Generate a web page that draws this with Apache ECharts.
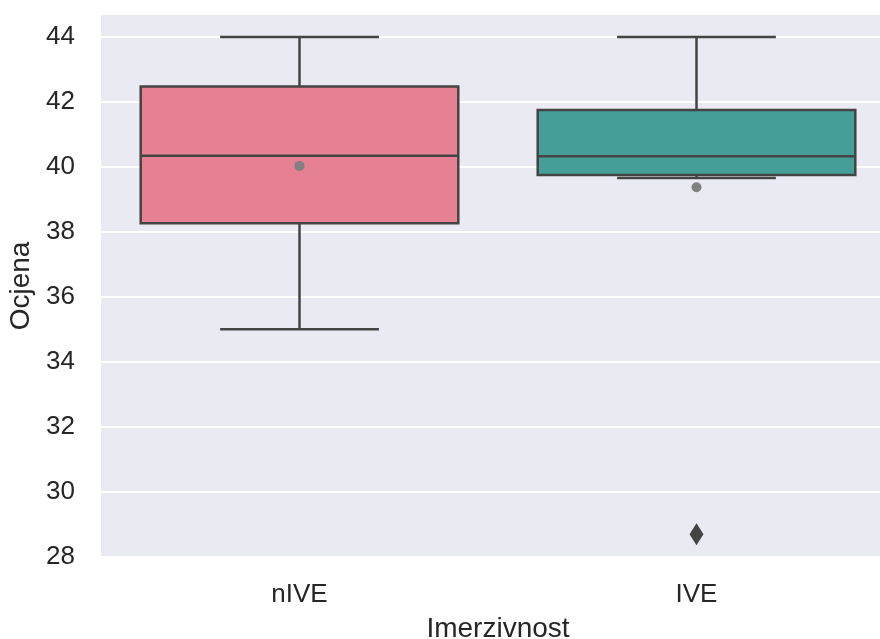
<!DOCTYPE html>
<html>
<head>
<meta charset="utf-8">
<script src="https://cdn.jsdelivr.net/npm/echarts@6/dist/echarts.min.js"></script>
<style>
html,body{margin:0;padding:0;background:#fff;}
#chart{width:880px;height:639px;}
</style>
</head>
<body>
<div id="chart"></div>
<script>
// ---- data ----
const categories = ['nIVE', 'IVE'];
const boxColors = ['#E68193', '#459E97'];
// [lower whisker, Q1, median, Q3, upper whisker]
const whiskerLow = [35.0, 39.66];
const q1 = [38.26, 39.75];
const medians = [40.34, 40.33];
const q3 = [42.48, 41.75];
const whiskerHigh = [44.0, 44.0];
const means = [40.03, 39.37];
const outliers = [[1, 28.68]];
const yTicks = [28, 30, 32, 34, 36, 38, 40, 42, 44];

const FONT = '"Liberation Sans", Arial, sans-serif';
const TEXT = '#262626';
const EDGE = '#444444';

const boxData = categories.map((c, i) => [i, whiskerLow[i], q1[i], medians[i], q3[i], whiskerHigh[i]]);

function renderBox(params, api) {
  const idx = api.value(0);
  const band = api.size([1, 0])[0];
  const boxW = band * 0.8;
  const capW = band * 0.4;
  const pLow = api.coord([idx, api.value(1)]);
  const pQ1 = api.coord([idx, api.value(2)]);
  const pMed = api.coord([idx, api.value(3)]);
  const pQ3 = api.coord([idx, api.value(4)]);
  const pHigh = api.coord([idx, api.value(5)]);
  const cx = pMed[0];
  const lw = 2.5;
  const ls = {stroke: EDGE, lineWidth: lw, fill: null};
  return {
    type: 'group',
    children: [
      {type: 'line', shape: {x1: cx, y1: pQ1[1], x2: cx, y2: pLow[1]}, style: ls},
      {type: 'line', shape: {x1: cx, y1: pQ3[1], x2: cx, y2: pHigh[1]}, style: ls},
      {type: 'line', shape: {x1: cx - capW / 2, y1: pLow[1], x2: cx + capW / 2, y2: pLow[1]}, style: ls},
      {type: 'line', shape: {x1: cx - capW / 2, y1: pHigh[1], x2: cx + capW / 2, y2: pHigh[1]}, style: ls},
      {type: 'rect', shape: {x: cx - boxW / 2, y: pQ3[1], width: boxW, height: pQ1[1] - pQ3[1]},
        style: {fill: boxColors[idx], stroke: EDGE, lineWidth: lw}},
      {type: 'line', shape: {x1: cx - boxW / 2, y1: pMed[1], x2: cx + boxW / 2, y2: pMed[1]}, style: ls}
    ]
  };
}

const chart = echarts.init(document.getElementById('chart'), null, {renderer: 'canvas'});
chart.setOption({
  animation: false,
  backgroundColor: '#ffffff',
  textStyle: {fontFamily: FONT},
  grid: {left: 101, top: 14, width: 794, height: 544, show: true, backgroundColor: '#EAEAF2', borderWidth: 0,
    containLabel: false, outerBoundsMode: 'none'},
  xAxis: {
    type: 'category',
    data: categories,
    boundaryGap: true,
    axisLine: {show: false},
    axisTick: {show: false},
    splitLine: {show: false},
    axisLabel: {color: TEXT, fontSize: 26, fontFamily: FONT, margin: 24},
    name: 'Imerzivnost',
    nameLocation: 'middle',
    nameGap: 57,
    nameTextStyle: {color: TEXT, fontSize: 28, fontFamily: FONT}
  },
  yAxis: {
    type: 'value',
    min: 27.95,
    max: 44.71,
    minInterval: 2,
    maxInterval: 2,
    axisLine: {show: false},
    axisTick: {show: false},
    splitLine: {show: true, lineStyle: {color: '#ffffff', width: 2}},
    axisLabel: {
      color: TEXT, fontSize: 26, fontFamily: FONT, margin: 26,
      formatter: function (v) {
        const r = Math.round(v);
        return (Math.abs(v - r) < 1e-6 && yTicks.indexOf(r) >= 0) ? String(r) : '';
      }
    },
    name: 'Ocjena',
    nameLocation: 'middle',
    nameGap: 66,
    nameRotate: 90,
    nameTextStyle: {color: TEXT, fontSize: 28, fontFamily: FONT}
  },
  series: [
    {type: 'custom', renderItem: renderBox, data: boxData, encode: {x: 0, y: [1, 2, 3, 4, 5]}, z: 2},
    {type: 'scatter', data: means.map((m, i) => [i, m]), symbol: 'circle', symbolSize: 10,
      itemStyle: {color: '#808080', opacity: 1}, z: 3},
    {type: 'scatter', data: outliers, symbol: 'diamond', symbolSize: [14, 22],
      itemStyle: {color: EDGE, opacity: 1}, z: 3}
  ]
});
</script>
</body>
</html>
